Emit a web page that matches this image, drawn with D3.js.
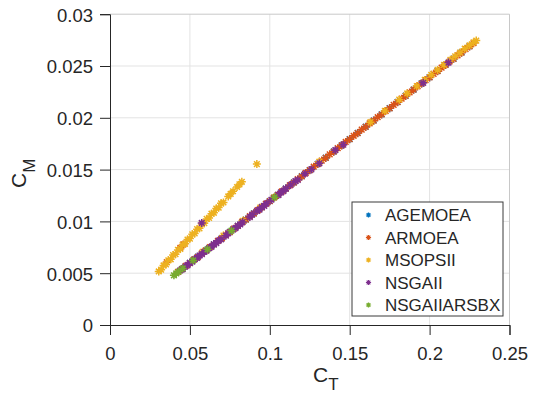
<!DOCTYPE html>
<html>
<head>
<meta charset="utf-8">
<script src="https://cdn.jsdelivr.net/npm/d3@7"></script>
<style>
  html, body { margin: 0; padding: 0; background: #fff; }
  svg { display: block; font-family: "Liberation Sans", Arial, Helvetica, sans-serif; }
</style>
</head>
<body>
<svg id="chart" width="536" height="394"></svg>
<script>
// Pareto fronts: thrust coefficient C_T vs moment coefficient C_M, per optimiser
const seriesNames = ["AGEMOEA", "ARMOEA", "MSOPSII", "NSGAII", "NSGAIIARSBX"];
const seriesColors = ["#0072BD", "#D95319", "#EDB120", "#7E2F8E", "#77AC30"];

const xTicks = [0, 0.05, 0.1, 0.15, 0.2, 0.25];
const yTicks = [0, 0.005, 0.01, 0.015, 0.02, 0.025, 0.03];
const xTickLabels = ["0", "0.05", "0.1", "0.15", "0.2", "0.25"];
const yTickLabels = ["0", "0.005", "0.01", "0.015", "0.02", "0.025", "0.03"];

// [C_T, C_M]
const AGEMOEA = [
  [0.045,0.00540],[0.050,0.00600],[0.055,0.00659],[0.060,0.00719],[0.065,0.00779],
  [0.070,0.00839],[0.075,0.00898],[0.080,0.00958],[0.085,0.01018],[0.090,0.01078],
  [0.095,0.01137],[0.100,0.01197],[0.105,0.01257],[0.110,0.01317],[0.115,0.01376],
  [0.120,0.01436],[0.125,0.01496],[0.130,0.01556],[0.135,0.01615],[0.140,0.01675],
  [0.145,0.01735],[0.150,0.01795],[0.155,0.01854],[0.160,0.01914],[0.165,0.01974],
  [0.170,0.02034],[0.175,0.02093],[0.180,0.02153],[0.185,0.02213],[0.190,0.02273],
  [0.195,0.02332],[0.200,0.02392],[0.205,0.02452],[0.210,0.02512],[0.215,0.02571],
  [0.220,0.02631],[0.225,0.02691]
];

const ARMOEA = [
  [0.0425,0.00512],[0.0450,0.00538],[0.0475,0.00572],[0.0500,0.00598],[0.0525,0.00631],
  [0.0550,0.00657],[0.0575,0.00691],[0.0600,0.00717],[0.0625,0.00751],[0.0650,0.00777],
  [0.0675,0.00811],[0.0700,0.00837],[0.0725,0.00870],[0.0750,0.00896],[0.0775,0.00930],
  [0.0800,0.00956],[0.0825,0.00990],[0.0850,0.01016],[0.0875,0.01050],[0.0900,0.01076],
  [0.0925,0.01109],[0.0950,0.01135],[0.0975,0.01169],[0.1000,0.01195],[0.1025,0.01229],
  [0.1050,0.01255],[0.1075,0.01289],[0.1100,0.01315],[0.1125,0.01348],[0.1150,0.01374],
  [0.1175,0.01408],[0.1200,0.01434],[0.1225,0.01468],[0.1250,0.01494],[0.1275,0.01528],
  [0.1300,0.01554],[0.1325,0.01587],[0.1350,0.01613],[0.1375,0.01647],[0.1400,0.01673],
  [0.1425,0.01707],[0.1450,0.01733],[0.1475,0.01767],[0.1500,0.01793],[0.1525,0.01826],
  [0.1550,0.01852],[0.1575,0.01886],[0.1600,0.01912],[0.1625,0.01946],[0.1650,0.01972],
  [0.1675,0.02006],[0.1700,0.02032],[0.1725,0.02065],[0.1750,0.02091],[0.1775,0.02125],
  [0.1800,0.02151],[0.1825,0.02185],[0.1850,0.02211],[0.1875,0.02245],[0.1900,0.02271],
  [0.1925,0.02304],[0.1950,0.02330],[0.1975,0.02364],[0.2000,0.02390],[0.2025,0.02424],
  [0.2050,0.02450],[0.2075,0.02484],[0.2100,0.02510],[0.2125,0.02543],[0.2150,0.02569],
  [0.2175,0.02603],[0.2200,0.02629],[0.2225,0.02663],[0.2250,0.02689],[0.2275,0.02720],
  [0.0355,0.00606],[0.0440,0.00745],[0.0460,0.00778]
];

const MSOPSII = [
  [0.0305,0.00517],[0.0320,0.00534],[0.0335,0.00575],[0.0350,0.00584],[0.0365,0.00625],
  [0.0380,0.00634],[0.0395,0.00675],[0.0410,0.00684],[0.0425,0.00725],[0.0440,0.00734],
  [0.0455,0.00775],[0.0470,0.00784],[0.0485,0.00825],[0.0500,0.00834],[0.0515,0.00875],
  [0.0530,0.00884],[0.0545,0.00925],[0.0560,0.00933],[0.0575,0.00974],[0.0590,0.00983],
  [0.0605,0.01024],[0.0620,0.01033],[0.0635,0.01074],[0.0650,0.01083],[0.0665,0.01124],
  [0.0680,0.01133],[0.0695,0.01174],[0.0710,0.01183],[0.0740,0.01241],[0.0755,0.01266],
  [0.0770,0.01291],[0.0795,0.01332],[0.0810,0.01357],[0.0825,0.01382],[0.0919,0.01553],
  [0.0580,0.00706],[0.0710,0.00864],[0.0830,0.01006],[0.0940,0.01133],[0.1310,0.01576],
  [0.1630,0.01958],[0.1720,0.02066],[0.1810,0.02175],[0.1860,0.02235],[0.1920,0.02306],
  [0.1970,0.02366],[0.2010,0.02415],[0.2050,0.02462],[0.2090,0.02510],[0.2130,0.02560],
  [0.2160,0.02594],[0.2190,0.02630],[0.2220,0.02667],[0.2250,0.02700],[0.2275,0.02728],
  [0.2292,0.02745]
];

const NSGAII = [
  [0.0440,0.00528],[0.0455,0.00540],[0.0470,0.00564],[0.0485,0.00576],[0.0500,0.00600],
  [0.0515,0.00611],[0.0530,0.00635],[0.0545,0.00647],[0.0560,0.00671],[0.0575,0.00683],
  [0.0590,0.00707],[0.0605,0.00719],[0.0620,0.00743],[0.0635,0.00755],[0.0650,0.00779],
  [0.0665,0.00791],[0.0680,0.00815],[0.0695,0.00827],[0.0725,0.00862],[0.0740,0.00886],
  [0.0770,0.00922],[0.0785,0.00934],[0.0800,0.00958],[0.0815,0.00970],[0.0830,0.00994],
  [0.0875,0.01042],[0.0890,0.01066],[0.0920,0.01101],[0.0935,0.01113],[0.0950,0.01137],
  [0.0965,0.01149],[0.0980,0.01173],[0.1010,0.01209],[0.1055,0.01257],[0.1070,0.01281],
  [0.1085,0.01292],[0.1100,0.01317],[0.1130,0.01352],[0.1160,0.01388],[0.1175,0.01400],
  [0.1220,0.01460],[0.1260,0.01502],[0.1310,0.01561],[0.1410,0.01687],[0.1460,0.01741],
  [0.1960,0.02338],[0.2118,0.02533],[0.0574,0.00985]
];

const NSGAIIARSBX = [
  [0.0400,0.00480],[0.0415,0.00498],[0.0430,0.00516],[0.0455,0.00546],[0.0520,0.00623],
  [0.0610,0.00731],[0.0760,0.00910],[0.1030,0.01233]
];

const allSeries = [AGEMOEA, ARMOEA, MSOPSII, NSGAII, NSGAIIARSBX];

const margin = { left: 110, right: 509.5, top: 14.2, bottom: 325 };
const x = d3.scaleLinear().domain([0, 0.25]).range([margin.left, margin.right]);
const y = d3.scaleLinear().domain([0, 0.03]).range([margin.bottom, margin.top]);

const svg = d3.select("#chart");
const axisColor = "#262626";

// grid
const grid = svg.append("g");
grid.selectAll("line.gx").data(xTicks.slice(1, -1)).join("line")
  .attr("x1", d => x(d)).attr("x2", d => x(d))
  .attr("y1", margin.top).attr("y2", margin.bottom)
  .attr("stroke", "#e3e3e3").attr("stroke-width", 1);
grid.selectAll("line.gy").data(yTicks.slice(1, -1)).join("line")
  .attr("y1", d => y(d)).attr("y2", d => y(d))
  .attr("x1", margin.left).attr("x2", margin.right)
  .attr("stroke", "#e3e3e3").attr("stroke-width", 1);

// box (top / right edges)
svg.append("path")
  .attr("d", `M${margin.left},${margin.top}H${margin.right}V${margin.bottom}`)
  .attr("fill", "none").attr("stroke", "#c8c8c8").attr("stroke-width", 1);

// asterisk marker
function star(r) {
  const d = r * 0.7071;
  return `M${-r},0H${r}M0,${-r}V${r}M${-d},${-d}L${d},${d}M${-d},${d}L${d},${-d}`;
}

const pts = svg.append("g");
allSeries.forEach((data, i) => {
  pts.append("g").selectAll("path").data(data).join("path")
    .attr("transform", d => `translate(${x(d[0])},${y(d[1])})`)
    .attr("d", star(4))
    .attr("fill", "none")
    .attr("stroke", seriesColors[i])
    .attr("stroke-width", 1.5);
});

// axes
const xAxis = d3.axisBottom(x).tickValues(xTicks).tickSize(10)
  .tickFormat((d, i) => xTickLabels[i]);
const yAxis = d3.axisLeft(y).tickValues(yTicks).tickSize(10)
  .tickFormat((d, i) => yTickLabels[i]);

const gx = svg.append("g").attr("transform", `translate(0,${margin.bottom})`).call(xAxis);
const gy = svg.append("g").attr("transform", `translate(${margin.left},0)`).call(yAxis);
[gx, gy].forEach(g => {
  g.select(".domain").attr("stroke", axisColor).attr("stroke-width", 1);
  g.selectAll(".tick line").attr("stroke", axisColor).attr("stroke-width", 1);
  g.selectAll(".tick text").attr("fill", axisColor)
    .style("font-family", '"Liberation Sans", Arial, sans-serif')
    .style("font-size", "18.5px");
});
gx.selectAll(".tick text").attr("dy", null).attr("y", 35);
gy.selectAll(".tick text").attr("x", -17).attr("dy", "0.37em");

// axis titles
const xt = svg.append("text").attr("x", 313).attr("y", 381.5)
  .attr("fill", axisColor).style("font-size", "21px");
xt.append("tspan").text("C");
xt.append("tspan").attr("dy", 8).style("font-size", "17px").text("T");

const yt = svg.append("text").attr("transform", "translate(26,188) rotate(-90)")
  .attr("fill", axisColor).style("font-size", "21px");
yt.append("tspan").text("C");
yt.append("tspan").attr("dy", 9).style("font-size", "17px").text("M");

// legend
const lg = svg.append("g");
lg.append("rect").attr("x", 352).attr("y", 202).attr("width", 151).attr("height", 114)
  .attr("fill", "#fff").attr("stroke", "#3a3a3a").attr("stroke-width", 1);
const rowY = d3.scaleLinear().domain([0, 4]).range([215, 305]);
seriesNames.forEach((name, i) => {
  lg.append("path").attr("transform", `translate(368.5,${rowY(i)})`)
    .attr("d", star(2.6)).attr("fill", "none")
    .attr("stroke", seriesColors[i]).attr("stroke-width", 1.2);
  lg.append("text").attr("x", 385).attr("y", rowY(i)).attr("dy", "0.36em")
    .attr("fill", axisColor).style("font-size", "17px").text(name);
});
</script>
</body>
</html>
